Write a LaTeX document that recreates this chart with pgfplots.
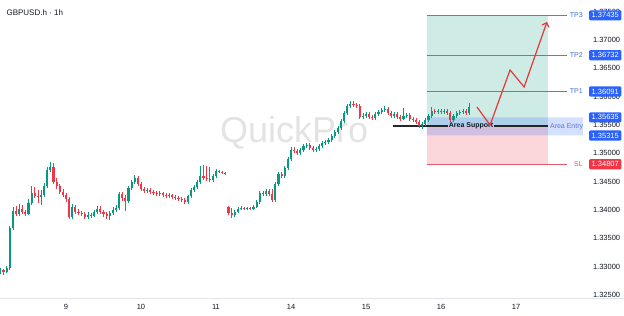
\documentclass[border=0pt]{standalone}
\usepackage{fontspec}
\setmainfont{Liberation Sans}
\usepackage{pgfplots}
\usepackage{pgfplotstable}
\pgfplotsset{compat=1.18}
\usetikzlibrary{arrows.meta}
\definecolor{cgreen}{HTML}{089981}
\definecolor{cred}{HTML}{F23645}
\definecolor{tvblue}{HTML}{2962FF}
\definecolor{tpline}{HTML}{5585BE}
\definecolor{tptext}{HTML}{3F6FD6}
\definecolor{slline}{HTML}{E35A6A}
\definecolor{profit}{HTML}{CEEBE6}
\definecolor{loss}{HTML}{FCD7DA}
\definecolor{txt}{HTML}{131722}
\definecolor{axgray}{HTML}{E0E3EB}
\definecolor{arrowred}{HTML}{E53935}
\definecolor{entrytxt}{HTML}{5A7AD0}
\tikzset{pricebox/.style={anchor=west, text=white, inner xsep=2.5pt, inner ysep=2.4pt, rounded corners=1pt, font=\fontsize{7.5}{9}\selectfont, xshift=1pt}}

% hourly candles, x = hour index (0 = day 9), open high low close
\pgfplotstableread{
h o hi lo c
-21 1.32906 1.32977 1.32871 1.32942
-19 1.32906 1.33012 1.32889 1.32977
-18 1.32977 1.33718 1.32942 1.33682
-17 1.33682 1.34054 1.33647 1.33983
-15 1.33930 1.34106 1.33894 1.34018
-12 1.33930 1.34195 1.33912 1.34124
-11 1.34124 1.34424 1.34089 1.34300
-8 1.34230 1.34353 1.34089 1.34265
-7 1.34265 1.34477 1.34230 1.34424
-6 1.34424 1.34759 1.34389 1.34706
-5 1.34706 1.34848 1.34671 1.34759
2 1.33877 1.34106 1.33841 1.34054
7 1.33877 1.33965 1.33841 1.33912
9 1.33894 1.34000 1.33877 1.33965
10 1.33965 1.34071 1.33930 1.34018
14 1.33894 1.33983 1.33824 1.33947
15 1.33947 1.34054 1.33912 1.34000
16 1.34000 1.34089 1.33965 1.34036
17 1.34036 1.34318 1.34000 1.34283
20 1.34159 1.34424 1.34124 1.34389
21 1.34389 1.34530 1.34353 1.34495
22 1.34495 1.34618 1.34459 1.34565
26 1.34336 1.34389 1.34300 1.34353
30 1.34283 1.34336 1.34247 1.34300
33 1.34247 1.34300 1.34212 1.34265
39 1.34142 1.34265 1.34106 1.34247
40 1.34247 1.34389 1.34212 1.34353
41 1.34353 1.34442 1.34318 1.34406
42 1.34406 1.34530 1.34371 1.34495
43 1.34495 1.34777 1.34459 1.34601
47 1.34530 1.34636 1.34495 1.34601
48 1.34601 1.34724 1.34565 1.34689
54 1.33912 1.34000 1.33877 1.33965
55 1.33965 1.34054 1.33947 1.34018
56 1.34018 1.34071 1.34000 1.34036
58 1.34018 1.34054 1.34000 1.34036
60 1.34018 1.34089 1.34000 1.34054
61 1.34054 1.34177 1.34036 1.34142
62 1.34142 1.34336 1.34106 1.34300
64 1.34283 1.34371 1.34247 1.34336
67 1.34177 1.34495 1.34142 1.34459
68 1.34459 1.34671 1.34424 1.34636
70 1.34601 1.34777 1.34565 1.34742
71 1.34742 1.34936 1.34706 1.34901
72 1.34901 1.35112 1.34865 1.35059
75 1.35006 1.35094 1.34971 1.35059
76 1.35059 1.35165 1.35024 1.35130
77 1.35130 1.35183 1.35094 1.35147
80 1.35059 1.35112 1.35024 1.35077
81 1.35077 1.35165 1.35042 1.35130
82 1.35130 1.35218 1.35094 1.35183
83 1.35183 1.35236 1.35147 1.35200
84 1.35200 1.35271 1.35165 1.35236
85 1.35236 1.35341 1.35200 1.35306
86 1.35306 1.35412 1.35271 1.35377
87 1.35377 1.35482 1.35341 1.35447
88 1.35447 1.35606 1.35412 1.35571
89 1.35571 1.35747 1.35535 1.35712
90 1.35712 1.35871 1.35677 1.35835
91 1.35835 1.35924 1.35800 1.35871
95 1.35641 1.35712 1.35606 1.35659
96 1.35659 1.35730 1.35624 1.35694
99 1.35624 1.35730 1.35588 1.35694
100 1.35694 1.35765 1.35659 1.35730
101 1.35730 1.35800 1.35694 1.35765
102 1.35765 1.35835 1.35730 1.35783
105 1.35659 1.35730 1.35624 1.35694
108 1.35606 1.35800 1.35588 1.35659
109 1.35659 1.35712 1.35624 1.35677
114 1.35482 1.35553 1.35430 1.35518
115 1.35518 1.35624 1.35482 1.35588
116 1.35588 1.35694 1.35553 1.35659
117 1.35659 1.35818 1.35624 1.35747
119 1.35730 1.35783 1.35694 1.35747
121 1.35730 1.35783 1.35694 1.35747
124 1.35588 1.35694 1.35553 1.35659
125 1.35659 1.35747 1.35624 1.35712
126 1.35712 1.35765 1.35677 1.35730
127 1.35730 1.35783 1.35694 1.35747
129 1.35712 1.35888 1.35677 1.35818
}\greencandles

\pgfplotstableread{
h o hi lo c
-20 1.32942 1.32959 1.32853 1.32906
-16 1.33983 1.34071 1.33894 1.33930
-14 1.34018 1.34089 1.33930 1.33965
-13 1.33965 1.34000 1.33894 1.33930
-10 1.34300 1.34406 1.34212 1.34247
-9 1.34247 1.34353 1.34124 1.34230
-4 1.34759 1.34830 1.34459 1.34495
-3 1.34495 1.34565 1.34371 1.34424
-2 1.34424 1.34459 1.34283 1.34318
-1 1.34318 1.34371 1.34230 1.34265
0 1.34265 1.34300 1.34142 1.34195
1 1.34195 1.34230 1.33841 1.33877
3 1.34054 1.34089 1.33930 1.33965
4 1.33965 1.34018 1.33912 1.33947
5 1.33947 1.33983 1.33894 1.33930
6 1.33930 1.33965 1.33841 1.33877
8 1.33912 1.33947 1.33859 1.33894
11 1.34018 1.34071 1.33930 1.33965
12 1.33965 1.34000 1.33877 1.33930
13 1.33930 1.33965 1.33841 1.33894
18 1.34283 1.34318 1.34159 1.34212
19 1.34212 1.34265 1.33983 1.34159
23 1.34565 1.34601 1.34424 1.34459
24 1.34459 1.34495 1.34336 1.34371
25 1.34371 1.34406 1.34300 1.34336
27 1.34353 1.34389 1.34283 1.34318
28 1.34318 1.34353 1.34265 1.34300
29 1.34300 1.34336 1.34247 1.34283
31 1.34300 1.34318 1.34230 1.34265
32 1.34265 1.34300 1.34212 1.34247
34 1.34265 1.34283 1.34195 1.34230
35 1.34230 1.34265 1.34177 1.34212
36 1.34212 1.34247 1.34159 1.34195
37 1.34195 1.34230 1.34142 1.34177
38 1.34177 1.34212 1.34106 1.34142
44 1.34601 1.34795 1.34530 1.34565
45 1.34565 1.34777 1.34512 1.34548
46 1.34548 1.34759 1.34495 1.34530
49 1.34689 1.34706 1.34653 1.34671
50 1.34671 1.34689 1.34636 1.34653
51 1.34653 1.34671 1.34618 1.34636
52 1.34054 1.34071 1.33912 1.33947
53 1.33947 1.34036 1.33859 1.33912
57 1.34036 1.34054 1.34000 1.34018
59 1.34036 1.34054 1.34000 1.34018
63 1.34300 1.34336 1.34247 1.34283
65 1.34336 1.34371 1.34247 1.34283
66 1.34283 1.34371 1.34142 1.34177
69 1.34636 1.34671 1.34565 1.34601
73 1.35059 1.35112 1.35006 1.35042
74 1.35042 1.35077 1.34971 1.35006
78 1.35147 1.35183 1.35059 1.35094
79 1.35094 1.35130 1.35024 1.35059
92 1.35871 1.35924 1.35818 1.35853
93 1.35853 1.35888 1.35800 1.35835
94 1.35835 1.35871 1.35606 1.35641
97 1.35694 1.35730 1.35606 1.35641
98 1.35641 1.35677 1.35588 1.35624
103 1.35783 1.35818 1.35677 1.35712
104 1.35712 1.35747 1.35624 1.35659
106 1.35694 1.35730 1.35606 1.35641
107 1.35641 1.35677 1.35571 1.35606
110 1.35677 1.35712 1.35571 1.35606
111 1.35606 1.35641 1.35553 1.35588
112 1.35588 1.35624 1.35518 1.35553
113 1.35553 1.35588 1.35447 1.35482
118 1.35747 1.35783 1.35694 1.35730
120 1.35747 1.35783 1.35694 1.35730
122 1.35747 1.35783 1.35677 1.35712
123 1.35712 1.35747 1.35553 1.35588
128 1.35747 1.35783 1.35677 1.35712
}\redcandles

\begin{document}
\begin{tikzpicture}
\useasboundingbox (0,-18pt) rectangle (624pt,298pt);
\begin{axis}[
  at={(0,0)}, anchor=south west,
  width=588pt, height=298pt, scale only axis,
  xmin=-21.12, xmax=167.04, ymin=1.324475, ymax=1.37706,
  clip=false,
  axis line style={draw=none},
  major tick length=0pt,
  xtick={0,24,48,72,96,120,144},
  xticklabels={9,10,11,14,15,16,17},
  xticklabel style={font=\fontsize{7.5}{9}\selectfont, text=txt, yshift=-3pt},
  ytick={1.325,1.33,1.335,1.34,1.345,1.35,1.355,1.36,1.365,1.37,1.375},
  yticklabel pos=right,
  yticklabel style={font=\fontsize{7.5}{9}\selectfont, text=txt, xshift=1.5pt,
    /pgf/number format/.cd, fixed, fixed zerofill, precision=5, assume math mode=true},
]
% bottom axis line
\draw[axgray, line width=0.8pt] (rel axis cs:0,0) -- (rel axis cs:1.0612,0);

% watermark
\node[font=\fontsize{36}{36}\selectfont, text=black!11] at (axis cs:73,1.35359) {QuickPro};

% long position boxes
\addplot[draw=none, fill=profit] coordinates {(115.5,1.35475) (154.2,1.35475) (154.2,1.37435) (115.5,1.37435) (115.5,1.35475)};
\addplot[draw=none, fill=loss] coordinates {(115.5,1.34807) (154.2,1.34807) (154.2,1.35475) (115.5,1.35475) (115.5,1.34807)};
\addplot[draw=none, fill=tvblue, fill opacity=0.2] coordinates {(115.5,1.35315) (165.4,1.35315) (165.4,1.35635) (115.5,1.35635) (115.5,1.35315)};

% target / stop lines
\addplot[tpline, line width=1.2pt] coordinates {(115.5,1.37435) (160.3,1.37435)};
\addplot[tpline, line width=1.2pt] coordinates {(115.5,1.36732) (160.3,1.36732)};
\addplot[tpline, line width=1.2pt] coordinates {(115.5,1.36091) (160.3,1.36091)};
\addplot[slline, line width=1.2pt] coordinates {(115.5,1.34807) (160.3,1.34807)};

% support line
\addplot[black!85, line width=1.3pt] coordinates {(104.6,1.35480) (122.2,1.35480)};
\addplot[black!85, line width=1.3pt] coordinates {(137.0,1.35480) (154.2,1.35480)};
\node[font=\bfseries\fontsize{7}{8}\selectfont, text=txt] at (axis cs:129.6,1.35480) {Area Support};

% candles: wicks (segment low -> high)
\addplot[cgreen, line width=0.6pt, mark=none, quiver={u=0, v=\thisrow{hi}-\thisrow{lo}}]
  table[x=h, y=lo] {\greencandles};
\addplot[cred, line width=0.6pt, mark=none, quiver={u=0, v=\thisrow{hi}-\thisrow{lo}}]
  table[x=h, y=lo] {\redcandles};
% candles: bodies (segment open -> close)
\addplot[cgreen, line width=2.2pt, mark=none, quiver={u=0, v=\thisrow{c}-\thisrow{o}}]
  table[x=h, y=o] {\greencandles};
\addplot[cred, line width=2.2pt, mark=none, quiver={u=0, v=\thisrow{o}-\thisrow{c}}]
  table[x=h, y=c] {\redcandles};

% projected path
\addplot[arrowred, line width=1.2pt, -{Straight Barb[length=3.5pt,width=7pt]}] coordinates {(131.5,1.35818) (135.7,1.35500) (142.1,1.36471) (146.6,1.36171) (153.9,1.37318)};

% tool labels
\node[anchor=east, text=tptext, font=\fontsize{7}{8}\selectfont] at (axis cs:166.5,1.37435) {TP3};
\node[anchor=east, text=tptext, font=\fontsize{7}{8}\selectfont] at (axis cs:166.5,1.36732) {TP2};
\node[anchor=east, text=tptext, font=\fontsize{7}{8}\selectfont] at (axis cs:166.5,1.36091) {TP1};
\node[anchor=east, text=slline, font=\fontsize{7}{8}\selectfont] at (axis cs:166.5,1.34807) {SL};
\node[text=entrytxt, font=\fontsize{7}{8}\selectfont] at (axis cs:160.2,1.35475) {Area Entry};

% price scale labels
\node[pricebox, fill=tvblue] at (axis cs:167.04,1.37435) {1.37435};
\node[pricebox, fill=tvblue] at (axis cs:167.04,1.36732) {1.36732};
\node[pricebox, fill=tvblue] at (axis cs:167.04,1.36091) {1.36091};
\node[pricebox, fill=tvblue] at (axis cs:167.04,1.35635) {1.35635};
\node[pricebox, fill=tvblue] at (axis cs:167.04,1.35315) {1.35315};
\node[pricebox, fill=cred] at (axis cs:167.04,1.34807) {1.34807};

% title
\node[anchor=west, xshift=3pt, yshift=-13pt, font=\fontsize{8}{9}\selectfont, text=txt] at (rel axis cs:0,1) {GBPUSD.h · 1h};
\end{axis}
\end{tikzpicture}
\end{document}
